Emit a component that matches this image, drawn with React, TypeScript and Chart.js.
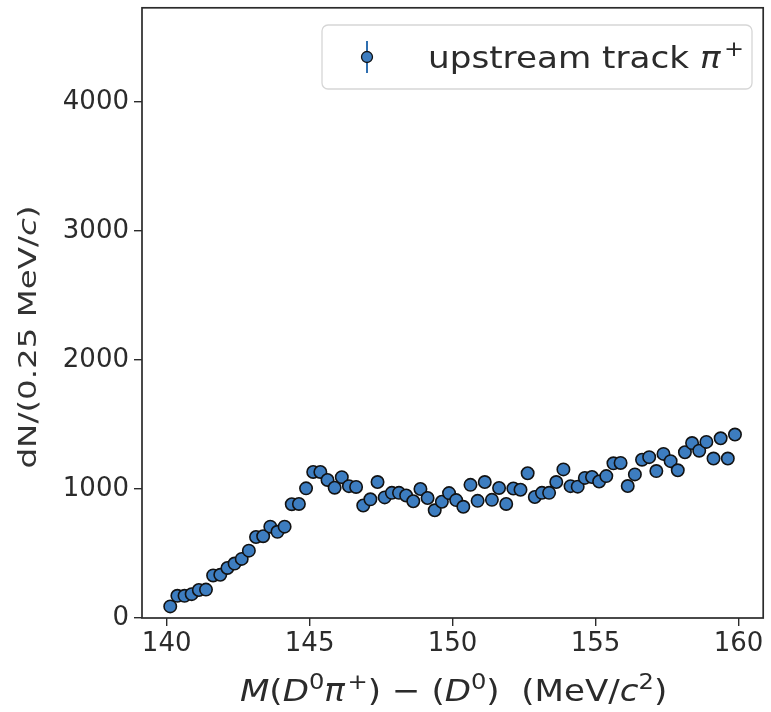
import { useEffect, useRef } from "react";
import { Chart, registerables } from "chart.js";

Chart.register(...registerables);

// Bin centres of M(D0 pi+) - M(D0), 0.25 MeV wide bins
const binCentres = [
  140.125, 140.375, 140.625, 140.875, 141.125, 141.375, 141.625, 141.875,
  142.125, 142.375, 142.625, 142.875, 143.125, 143.375, 143.625, 143.875,
  144.125, 144.375, 144.625, 144.875, 145.125, 145.375, 145.625, 145.875,
  146.125, 146.375, 146.625, 146.875, 147.125, 147.375, 147.625, 147.875,
  148.125, 148.375, 148.625, 148.875, 149.125, 149.375, 149.625, 149.875,
  150.125, 150.375, 150.625, 150.875, 151.125, 151.375, 151.625, 151.875,
  152.125, 152.375, 152.625, 152.875, 153.125, 153.375, 153.625, 153.875,
  154.125, 154.375, 154.625, 154.875, 155.125, 155.375, 155.625, 155.875,
  156.125, 156.375, 156.625, 156.875, 157.125, 157.375, 157.625, 157.875,
  158.125, 158.375, 158.625, 158.875, 159.125, 159.375, 159.625, 159.875,
];

// Candidates per bin, upstream-track slow pion
const upstreamCounts = [
  90, 172, 172, 185, 217, 220, 330, 335, 388, 422, 458, 522, 628, 634, 708, 668,
  708, 882, 884, 1005, 1132, 1132, 1070, 1010, 1092, 1022, 1016, 872, 920, 1054,
  935, 970, 970, 950, 905, 1000, 930, 835, 901, 968,
  914, 862, 1032, 908, 1054, 916, 1008, 884, 1004, 994,
  1122, 938, 970, 970, 1054, 1152, 1022, 1018, 1086, 1093,
  1058, 1100, 1199, 1202, 1023, 1113, 1227, 1247, 1139, 1272,
  1216, 1145, 1285, 1356, 1297, 1365, 1236, 1393, 1236, 1422,
];

const xTicks = [140, 145, 150, 155, 160];
const yTicks = [0, 1000, 2000, 3000, 4000];
const xRange = [139.1375, 160.8625];
const yRange = [0, 4730];

const legendLabel = "upstream track ";

const FONT = '"DejaVu Sans", sans-serif';
const INK = "#2b2b2b";
const MARKER_FILL = "#3d7dc0";
const MARKER_EDGE = "#121212";

type Seg = { t: string; it?: boolean; sup?: boolean; gap?: number };

function segFont(s: Seg, size: number) {
  const sz = s.sup ? Math.round(size * 0.7) : size;
  return `${s.it ? "italic " : ""}${sz}px ${FONT}`;
}

function segWidth(ctx: CanvasRenderingContext2D, s: Seg, size: number) {
  ctx.font = segFont(s, size);
  return ctx.measureText(s.t).width + (s.gap ?? 0) * size;
}

// Draws mixed upright/italic/superscript text; sx stretches along the text direction.
function drawRich(
  ctx: CanvasRenderingContext2D,
  segs: Seg[],
  x: number,
  y: number,
  size: number,
  align: "left" | "center",
  sx = 1
) {
  const w = segs.reduce((acc, s) => acc + segWidth(ctx, s, size), 0);
  ctx.save();
  ctx.translate(x, y);
  ctx.scale(sx, 1);
  let cx = align === "center" ? -w / 2 : 0;
  ctx.textAlign = "left";
  ctx.textBaseline = "alphabetic";
  for (const s of segs) {
    const g = (s.gap ?? 0) * size;
    ctx.font = segFont(s, size);
    ctx.fillText(s.t, cx + g, s.sup ? -size * 0.4 : 0);
    cx += segWidth(ctx, s, size);
  }
  ctx.restore();
}

const xTitle: Seg[] = [
  { t: "M", it: true },
  { t: "(" },
  { t: "D", it: true },
  { t: "0", sup: true },
  { t: "π", it: true },
  { t: "+", sup: true, gap: 0.08 },
  { t: ") − (" },
  { t: "D", it: true },
  { t: "0", sup: true },
  { t: ")  (MeV/" },
  { t: "c", it: true },
  { t: "2", sup: true },
  { t: ")" },
];

const yTitle: Seg[] = [{ t: "dN/(0.25 MeV/" }, { t: "c", it: true }, { t: ")" }];

const legendText: Seg[] = [
  { t: legendLabel },
  { t: "π", it: true },
  { t: "+", sup: true, gap: 0.1 },
];

const decorations = {
  id: "frameAndLabels",
  afterDraw(chart: Chart) {
    const { ctx, chartArea } = chart;
    const { left, right, top, bottom } = chartArea;
    ctx.save();

    // four spines
    ctx.strokeStyle = INK;
    ctx.lineWidth = 1.7;
    ctx.strokeRect(left, top, right - left, bottom - top);

    // axis titles
    ctx.fillStyle = INK;
    drawRich(ctx, xTitle, (left + right) / 2 + 1, 701, 31, "center", 1.1);

    ctx.save();
    ctx.translate(36, 337);
    ctx.rotate(-Math.PI / 2);
    ctx.fillStyle = "#333";
    drawRich(ctx, yTitle, 0, 0, 25, "center", 1.3);
    ctx.restore();

    // legend box
    const bx = 322, by = 25, bw = 430, bh = 64, r = 6;
    ctx.beginPath();
    ctx.moveTo(bx + r, by);
    ctx.arcTo(bx + bw, by, bx + bw, by + bh, r);
    ctx.arcTo(bx + bw, by + bh, bx, by + bh, r);
    ctx.arcTo(bx, by + bh, bx, by, r);
    ctx.arcTo(bx, by, bx + bw, by, r);
    ctx.closePath();
    ctx.fillStyle = "rgba(255,255,255,0.85)";
    ctx.fill();
    ctx.strokeStyle = "#d6d6d6";
    ctx.lineWidth = 1.3;
    ctx.stroke();

    // legend handle: error bar with marker
    const mx = 367, my = 57;
    ctx.strokeStyle = "#2f6fb0";
    ctx.lineWidth = 2;
    ctx.beginPath();
    ctx.moveTo(mx, my - 16);
    ctx.lineTo(mx, my + 16);
    ctx.stroke();
    ctx.beginPath();
    ctx.arc(mx, my, 5.5, 0, Math.PI * 2);
    ctx.fillStyle = MARKER_FILL;
    ctx.fill();
    ctx.strokeStyle = MARKER_EDGE;
    ctx.lineWidth = 1.3;
    ctx.stroke();

    ctx.fillStyle = INK;
    drawRich(ctx, legendText, 428, 68, 30, "left", 1.14);

    ctx.restore();
  },
};

export default function App() {
  const canvasRef = useRef<HTMLCanvasElement | null>(null);

  useEffect(() => {
    const canvas = canvasRef.current;
    if (!canvas) return;

    const points = binCentres.map((x, i) => ({ x, y: upstreamCounts[i] }));

    const chart = new Chart(canvas, {
      type: "scatter",
      data: {
        datasets: [
          {
            label: "upstream track π+",
            data: points,
            pointRadius: 6.2,
            pointHoverRadius: 6.2,
            pointBackgroundColor: MARKER_FILL,
            pointBorderColor: MARKER_EDGE,
            pointBorderWidth: 1.6,
          },
        ],
      },
      options: {
        responsive: false,
        animation: false,
        events: [],
        layout: { padding: { top: 7, right: 3, left: 0, bottom: 0 } },
        plugins: {
          legend: { display: false },
          tooltip: { enabled: false },
          title: { display: false },
        },
        scales: {
          x: {
            type: "linear",
            min: xRange[0],
            max: xRange[1],
            afterBuildTicks: (scale: any) => {
              scale.ticks = xTicks.map((v) => ({ value: v }));
            },
            afterFit: (scale: any) => {
              scale.height = 94;
              scale.paddingLeft = 0;
              scale.paddingRight = 0;
            },
            grid: {
              drawOnChartArea: false,
              drawTicks: true,
              tickLength: 8,
              color: INK,
              lineWidth: 1.4,
            },
            border: { display: false },
            ticks: {
              padding: 3,
              color: INK,
              font: { family: FONT, size: 26 },
              callback: (v: any) => String(v),
            },
          },
          y: {
            type: "linear",
            min: yRange[0],
            max: yRange[1],
            afterBuildTicks: (scale: any) => {
              scale.ticks = yTicks.map((v) => ({ value: v }));
            },
            afterFit: (scale: any) => {
              scale.width = 142;
              scale.paddingTop = 0;
              scale.paddingBottom = 0;
            },
            grid: {
              drawOnChartArea: false,
              drawTicks: true,
              tickLength: 8,
              color: INK,
              lineWidth: 1.4,
            },
            border: { display: false },
            ticks: {
              padding: 5,
              color: INK,
              font: { family: FONT, size: 26 },
              callback: (v: any) => String(v),
            },
          },
        },
      },
      plugins: [decorations],
    });

    return () => chart.destroy();
  }, []);

  return (
    <div style={{ position: "absolute", left: 0, top: 0, width: 771, height: 712, background: "#fff" }}>
      <canvas ref={canvasRef} width={771} height={712} style={{ display: "block" }} />
    </div>
  );
}
